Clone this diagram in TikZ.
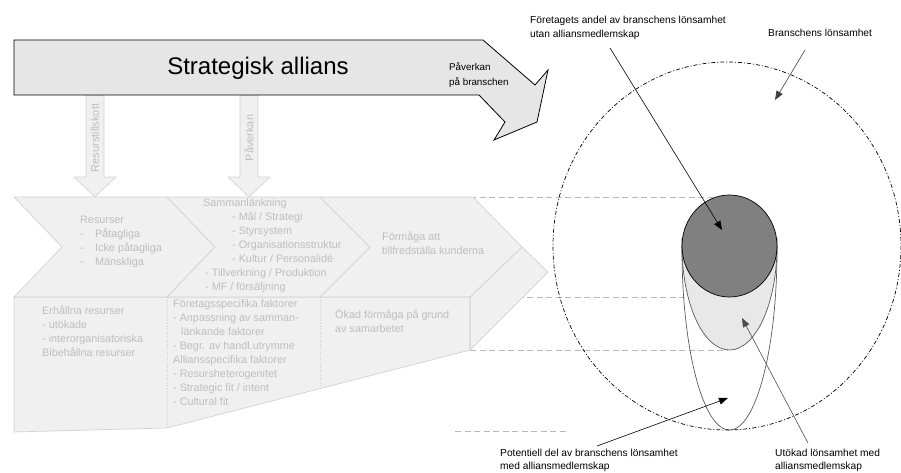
\documentclass[tikz,border=0pt]{standalone}
\usepackage{fontspec}
\setmainfont{Liberation Sans}
\usetikzlibrary{arrows.meta}
\definecolor{facefill}{HTML}{F0F0F0}
\definecolor{faceline}{HTML}{D2D2D2}
\definecolor{facetext}{HTML}{BEBEBE}
\definecolor{bandfill}{HTML}{E6E6E6}
\definecolor{lightell}{HTML}{E8E8E8}
\definecolor{darkcirc}{HTML}{808080}
\definecolor{guide}{HTML}{B8B8B8}
\begin{document}
\begin{tikzpicture}[x=1pt,y=-1pt,
  face/.style={fill=facefill, draw=faceline, line width=0.7pt, line join=miter},
  divider/.style={draw=faceline, line width=0.6pt, dotted},
  guideline/.style={draw=guide, line width=0.6pt, dash pattern=on 6pt off 3.5pt},
  downarrow/.style={fill=facefill, draw=faceline, line width=0.6pt},
  graytext/.style={text=facetext, inner sep=0pt, anchor=north west, align=left,
    font=\fontsize{10.8}{14}\selectfont},
  shafttext/.style={text=facetext, inner sep=0pt, rotate=90, font=\fontsize{11}{12}\selectfont},
  label/.style={inner sep=0pt, anchor=north west, align=left, font=\fontsize{10.2}{14}\selectfont},
  pointer/.style={line width=0.6pt, -{Triangle[length=9pt,width=7pt]}},
  ellline/.style={draw=black!65, line width=0.7pt},
]
\useasboundingbox (0,0) rectangle (901,473);

% level guides running from the value chain to the profit shapes
\draw[guideline] (470,197) -- (713,197);
\draw[guideline] (470,297) -- (720,297);
\draw[guideline] (470,350) -- (727,350);
\draw[guideline] (455,431) -- (568,431);

% lower block with its slanted bottom and the right side face
\path[face] (14,297) -- (470,297) -- (470,350) -- (167,428) -- (14,432) -- cycle;
\path[face] (522,247) -- (548,272) -- (470,350) -- (470,297) -- cycle;
\draw[divider] (167,297) -- (167,428);
\draw[divider] (320,297) -- (320,389);
\draw[divider] (470,297) -- (470,350);

% chevrons of the value chain
\path[face] (14,197) -- (167,197) -- (215,247) -- (167,297) -- (14,297) -- (62,247) -- cycle;
\path[face] (167,197) -- (320,197) -- (370,247) -- (320,297) -- (167,297) -- (215,247) -- cycle;
\path[face] (320,197) -- (473,197) -- (522,247) -- (470,297) -- (320,297) -- (370,247) -- cycle;

% downward arrows from the alliance
\path[downarrow] (86,95) -- (104,95) -- (104,177) -- (116,177) -- (95,197) -- (74,177) -- (86,177) -- cycle;
\path[downarrow] (240,95) -- (258,95) -- (258,177) -- (270,177) -- (249,197) -- (228,177) -- (240,177) -- cycle;
\node[shafttext] (tillskott) at (95,138) {Resurstillskott};
\node[shafttext] (paverkan) at (249,138) {Påverkan};

% the alliance band with its bent head
\path[fill=bandfill, draw=black, line width=0.8pt, line join=miter]
  (14,40) -- (483,40) -- (535,85) -- (548,70) -- (537,122) -- (494,140)
  -- (505,122) -- (479,95) -- (14,95) -- cycle;
\node[font=\fontsize{24}{27}\selectfont, inner sep=0pt] (title) at (258,68) {Strategisk allians};
\node[inner sep=0pt, anchor=north west, align=left, font=\fontsize{9.8}{15}\selectfont]
  (branschpaverkan) at (449,62) {Påverkan\\på branschen};

% texts in the chevrons
\node[graytext] (resurser) at (80,216) {Resurser\\
  \makebox[15pt][l]{-}Påtagliga\\
  \makebox[15pt][l]{-}Icke påtagliga\\
  \makebox[15pt][l]{-}Mänskliga};
\node[graytext] (samman) at (203,198) {Sammanlänkning\\
  \hspace*{29pt}- Mål / Strategi\\
  \hspace*{29pt}- Styrsystem\\
  \hspace*{29pt}- Organisationsstruktur\\
  \hspace*{29pt}- Kultur / Personalidé\\
  \hspace*{2pt}- Tillverkning / Produktion\\
  \hspace*{2pt}- MF / försäljning};
\node[graytext] (formaga) at (382,232) {Förmåga att\\tillfredställa kunderna};

% texts in the lower block
\node[graytext] (erhallna) at (42,306) {Erhållna resurser\\
  - utökade\\
  - interorganisatoriska\\
  Bibehållna resurser};
\node[graytext] (faktorer) at (173,299) {Företagsspecifika faktorer\\
  - Anpassning av samman-\\
  \hspace*{8pt}länkande faktorer\\
  - Begr. av handl.utrymme\\
  Alliansspecifika faktorer\\
  - Resursheterogenitet\\
  - Strategic fit / intent\\
  - Cultural fit};
\node[graytext] (okad) at (335,309) {Ökad förmåga på grund\\av samarbetet};

% profit shapes
\draw[ellline] (682,238) -- (682,250)
  arc[start angle=180, end angle=0, x radius=47.5, y radius=180] -- (777,238);
\path[fill=lightell, draw=black!65, line width=0.7pt] (682,246)
  arc[start angle=180, end angle=0, x radius=47.5, y radius=104] -- cycle;
\path[fill=darkcirc, draw=black, line width=0.7pt] (729.5,246) ellipse[x radius=47.5, y radius=51];
\draw[black, line width=0.7pt, dash pattern=on 4pt off 2pt on 1pt off 2pt]
  (727,246) ellipse[x radius=174, y radius=184];

% labels and pointers
\node[label] (andel) at (530,16) {Företagets andel av branschens lönsamhet\\utan alliansmedlemskap};
\node[label] (bransch) at (768,29) {Branschens lönsamhet};
\node[label, font=\fontsize{10.2}{13}\selectfont] (potentiell) at (500,449) {Potentiell del av branschens lönsamhet\\med alliansmedlemskap};
\node[label, font=\fontsize{10.2}{13}\selectfont] (utokad) at (775,449) {Utökad lönsamhet med\\alliansmedlemskap};

\coordinate (andelStart) at (610,48);
\coordinate (andelTip) at (722,230);
\coordinate (branschStart) at (805,50);
\coordinate (branschTip) at (775,100);
\coordinate (potStart) at (597,446);
\coordinate (potTip) at (728,398);
\coordinate (utoStart) at (808,443);
\coordinate (utoTip) at (742,318);

\draw[pointer, black] (andelStart) -- (andelTip);
\draw[pointer, black!75] (branschStart) -- (branschTip);
\draw[pointer, black] (potStart) -- (potTip);
\draw[pointer, black!70] (utoStart) -- (utoTip);
\end{tikzpicture}
\end{document}
